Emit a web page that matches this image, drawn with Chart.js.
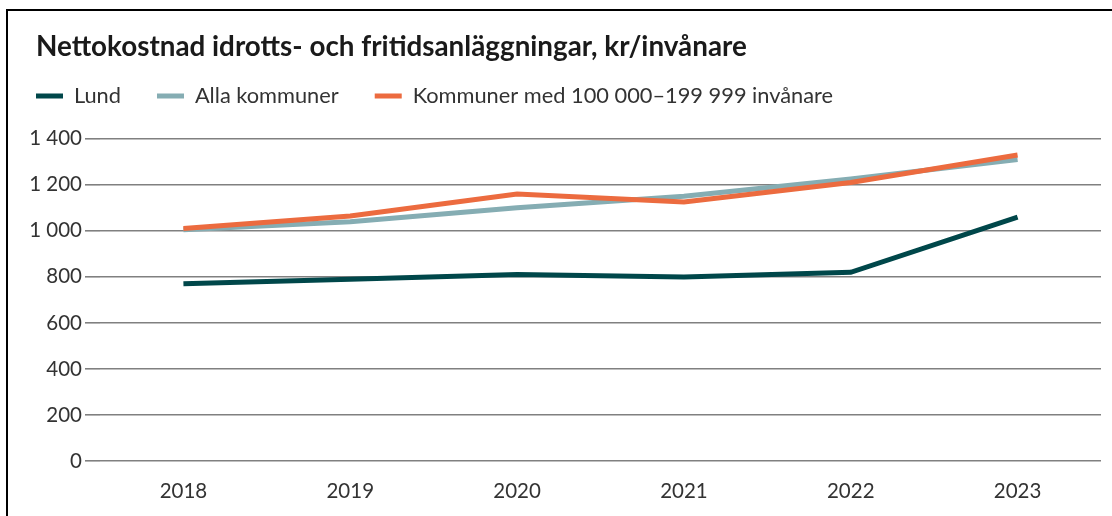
<!DOCTYPE html>
<html>
<head>
<meta charset="utf-8">
<script src="https://cdn.jsdelivr.net/npm/chart.js@4/dist/chart.umd.min.js"></script>
<style>
    html, body { margin: 0; padding: 0; background: #fff; overflow: hidden; }
    #wrap { position: relative; width: 1112px; height: 516px; }
    #frame { position: absolute; left: 6px; top: 9px; width: 1200px; height: 600px;
             border-left: 2.5px solid #000; border-top: 2.5px solid #000; }
    canvas { position: absolute; left: 0; top: 0; }
</style>
</head>
<body>
<div id="wrap">
    <div id="frame"></div>
    <canvas id="costChart" width="1112" height="516"></canvas>
</div>
<script>
    const years = ['2018', '2019', '2020', '2021', '2022', '2023'];
    const lund = [770, 790, 810, 800, 820, 1060];
    const allaKommuner = [1005, 1040, 1100, 1150, 1225, 1310];
    const kommuner100k = [1010, 1065, 1160, 1125, 1210, 1330];
    const seriesNames = ['Lund', 'Alla kommuner', 'Kommuner med 100 000\u2013199 999 invånare'];
    const titleText = 'Nettokostnad idrotts- och fritidsanläggningar, kr/invånare';

    const FONT = 'Lato, "Open Sans", sans-serif';

    // Title drawn left-aligned at its own indent
    const leftTitle = {
        id: 'leftTitle',
        afterDraw(chart) {
            const ctx = chart.ctx;
            ctx.save();
            ctx.font = 'bold 27.8px ' + FONT;
            ctx.fillStyle = '#1a1a1a';
            ctx.textBaseline = 'alphabetic';
            ctx.fillText(titleText, 36, 56);
            ctx.restore();
        }
    };

    // Extra room under the legend row before the plot starts
    const legendGap = {
        id: 'legendGap',
        beforeLayout(chart) {
            const legend = chart.legend;
            if (legend && !legend._gapWrapped) {
                const fit = legend.fit;
                legend.fit = function() {
                    fit.call(this);
                    this.height += 22;
                };
                legend._gapWrapped = true;
            }
        }
    };

    function formatThousands(v) {
        return String(v).replace(/\B(?=(\d{3})+(?!\d))/g, ' ');
    }

    const ctx = document.getElementById('costChart').getContext('2d');
    new Chart(ctx, {
        type: 'line',
        data: {
            labels: years,
            datasets: [
                { label: seriesNames[0], data: lund, borderColor: '#00474a', backgroundColor: '#00474a', order: 1 },
                { label: seriesNames[1], data: allaKommuner, borderColor: '#85adb3', backgroundColor: '#85adb3', order: 2 },
                { label: seriesNames[2], data: kommuner100k, borderColor: '#ec6b3f', backgroundColor: '#ec6b3f', order: 0 }
            ]
        },
        options: {
            responsive: false,
            animation: false,
            elements: {
                line: { borderWidth: 5, tension: 0, fill: false },
                point: { radius: 0, hoverRadius: 0 }
            },
            layout: {
                padding: { top: 49, left: 0, right: 11, bottom: 13 }
            },
            plugins: {
                title: { display: false },
                tooltip: { enabled: false },
                legend: {
                    position: 'top',
                    align: 'start',
                    labels: {
                        boxWidth: 27,
                        boxHeight: 5,
                        padding: 36,
                        color: '#333',
                        font: { family: FONT, size: 21.8 },
                        sort: (a, b) => a.datasetIndex - b.datasetIndex,
                        generateLabels: function(chart) {
                            const items = Chart.defaults.plugins.legend.labels.generateLabels(chart);
                            return items.map(item => {
                                item.fillStyle = item.strokeStyle;
                                item.lineWidth = 0;
                                return item;
                            });
                        }
                    }
                }
            },
            scales: {
                x: {
                    offset: true,
                    afterFit: function(scale) { scale.height = 42; },
                    grid: { display: false, drawTicks: false },
                    border: { display: false },
                    ticks: {
                        color: '#333',
                        padding: 18,
                        font: { family: FONT, size: 20.5 }
                    }
                },
                y: {
                    min: 0,
                    max: 1400,
                    afterFit: function(scale) { scale.width = 100; },
                    grid: { color: '#808080', lineWidth: 1.6, tickLength: 15 },
                    border: { display: false },
                    ticks: {
                        stepSize: 200,
                        color: '#333',
                        padding: 3,
                        font: { family: FONT, size: 20.5 },
                        callback: value => formatThousands(value)
                    }
                }
            }
        },
        plugins: [leftTitle, legendGap]
    });
</script>
</body>
</html>
